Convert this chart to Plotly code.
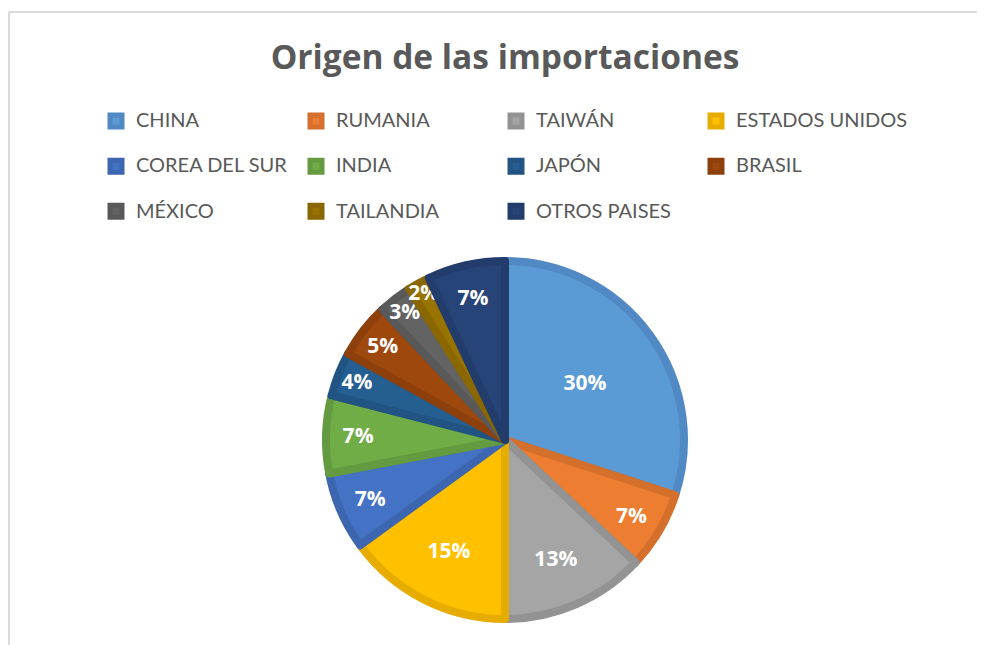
import plotly.graph_objects as go

categories = ["CHINA", "RUMANIA", "TAIWÁN", "ESTADOS UNIDOS", "COREA DEL SUR",
              "INDIA", "JAPÓN", "BRASIL", "MÉXICO", "TAILANDIA", "OTROS PAISES"]
values = [30, 7, 13, 15, 7, 7, 4, 5, 3, 2, 7]

fill_colors = ["#5B9BD5", "#ED7D31", "#A5A5A5", "#FFC000", "#4472C4", "#70AD47",
               "#255E91", "#9E480E", "#636363", "#997300", "#264478"]
line_colors = ["#5089C3", "#D4702C", "#939393", "#E6AC00", "#3D66B0", "#659B40",
               "#215483", "#8E400C", "#595959", "#8A6700", "#223D6C"]

# page has an 8px body margin, so the figure is 8px smaller and coordinates are page-8
W, H = 977, 637
cx, cy, r = 497, 432, 179

legend_labels = ['<span style="font-size:20px">%s</span><br> ' % c for c in categories]
# invisible legend title that only widens the legend box so the last column is not clipped
spacer = "\u00a0" * 330

fig = go.Figure(go.Pie(
    labels=legend_labels,
    values=values,
    sort=False,
    direction="clockwise",
    rotation=0,
    marker=dict(colors=fill_colors, line=dict(color=line_colors, width=8)),
    textinfo="percent",
    texttemplate="%{percent:.0%}",
    textposition="inside",
    insidetextorientation="horizontal",
    textfont=dict(family="Open Sans", size=21, color="white", weight="bold"),
    hoverinfo="skip",
    domain=dict(x=[(cx - r) / W, (cx + r) / W], y=[(H - cy - r) / H, (H - cy + r) / H]),
))

fig.update_layout(
    width=W, height=H,
    margin=dict(l=0, r=0, t=0, b=0),
    paper_bgcolor="white",
    plot_bgcolor="white",
    uniformtext=dict(minsize=21, mode="show"),
    title=dict(text="<b>Origen de las importaciones</b>", x=497 / W, xanchor="center",
               y=1 - 49 / H, yanchor="middle",
               font=dict(family="Open Sans", size=33.5, color="#595959")),
    legend=dict(orientation="h", x=88 / W, xanchor="left", y=1 - 83 / H, yanchor="top",
                entrywidth=155, entrywidthmode="pixels", valign="top",
                title=dict(text=spacer, side="top", font=dict(size=10, family="Lato")),
                font=dict(family="Lato", size=16.2, color="#595959"),
                bgcolor="rgba(0,0,0,0)"),
    shapes=[
        dict(type="line", xref="paper", yref="paper", x0=1 / W, x1=1, y0=1 - 4 / H, y1=1 - 4 / H,
             line=dict(color="#D9D9D9", width=2)),
        dict(type="line", xref="paper", yref="paper", x0=1 / W, x1=1 / W, y0=0, y1=1 - 4 / H,
             line=dict(color="#D9D9D9", width=2)),
    ],
)

fig.write_html("out.html")
